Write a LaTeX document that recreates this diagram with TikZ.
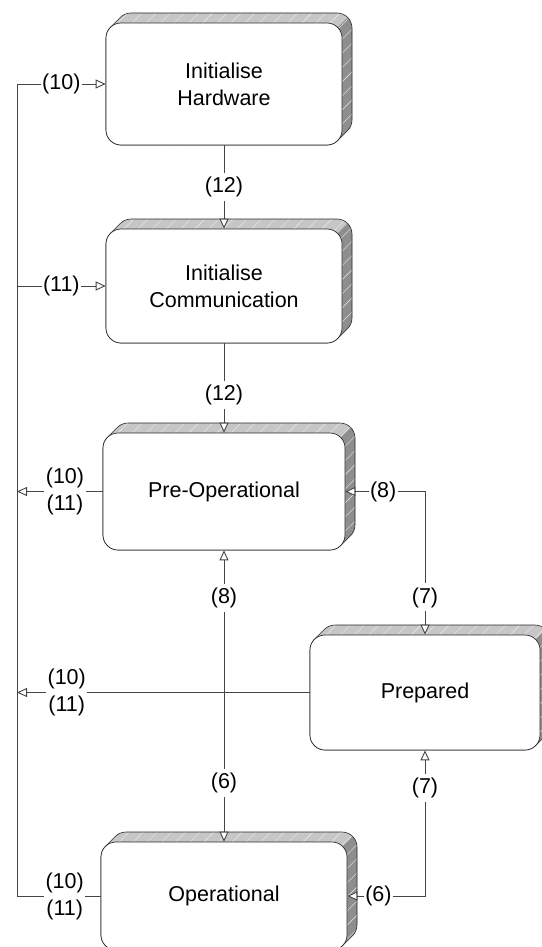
\documentclass[tikz,border=0pt]{standalone}
\usepackage{fontspec}
\setmainfont{Liberation Sans}
\usetikzlibrary{arrows.meta,patterns.meta,calc}
\definecolor{topface}{HTML}{C6C6C6}
\definecolor{sideface}{HTML}{8E8E8E}
\definecolor{edge}{HTML}{2A2A2A}
\definecolor{wire}{HTML}{454545}
\newcommand{\extrude}[4]{%
  \pgfmathsetmacro{\eL}{#1}\pgfmathsetmacro{\eT}{-(#2)}%
  \pgfmathsetmacro{\eR}{#3}\pgfmathsetmacro{\eB}{-(#4)}%
  \path[fill=topface] ({\eL+4.393},{\eT-4.393}) -- ++(10,10) arc[start angle=135,end angle=90,radius=15] -- ({\eR-5},{\eT+10}) arc[start angle=90,end angle=0,radius=15] -- ({\eR+10},{\eB+25}) arc[start angle=0,end angle=-45,radius=15] -- ++(-10,-10) arc[start angle=-45,end angle=-90,radius=15] -- ({\eL+15},{\eB}) arc[start angle=-90,end angle=-180,radius=15] -- ({\eL},{\eT-15}) arc[start angle=180,end angle=135,radius=15] -- cycle;
  \path[fill=sideface] ({\eR-4.393},{\eT-4.393}) -- ++(10,10) arc[start angle=45,end angle=0,radius=15] -- ({\eR+10},{\eB+25}) arc[start angle=0,end angle=-45,radius=15] -- ++(-10,-10) arc[start angle=-45,end angle=0,radius=15] -- ({\eR},{\eT-15}) arc[start angle=0,end angle=45,radius=15] -- cycle;
  \path[pattern={Lines[angle=45,distance=10pt,line width=0.4pt]},pattern color=white!70!topface,draw=edge,line width=0.6pt] ({\eL+4.393},{\eT-4.393}) -- ++(10,10) arc[start angle=135,end angle=90,radius=15] -- ({\eR-5},{\eT+10}) arc[start angle=90,end angle=0,radius=15] -- ({\eR+10},{\eB+25}) arc[start angle=0,end angle=-45,radius=15] -- ++(-10,-10) arc[start angle=-45,end angle=-90,radius=15] -- ({\eL+15},{\eB}) arc[start angle=-90,end angle=-180,radius=15] -- ({\eL},{\eT-15}) arc[start angle=180,end angle=135,radius=15] -- cycle;
}
\tikzset{
  stbox/.style={draw=edge, fill=white, line width=0.7pt, rounded corners=15pt,
    align=center, inner sep=0pt, font=\fontsize{21.5}{27}\selectfont},
  conn/.style={draw=wire, line width=0.9pt, -{Triangle[length=10pt,width=9pt,fill=white]}},
  conn2/.style={draw=wire, line width=0.9pt, {Triangle[length=10pt,width=9pt,fill=white]}-{Triangle[length=10pt,width=9pt,fill=white]}},
  plain/.style={draw=wire, line width=0.9pt},
  lbl/.style={fill=white, inner xsep=1.5pt, inner ysep=4pt, align=center,
    font=\fontsize{21.5}{27}\selectfont}
}
\begin{document}
\begin{tikzpicture}[x=1pt,y=1pt]
\useasboundingbox (0,0) rectangle (541,-947);
% extruded backs
\extrude{106}{23}{342}{145}
\extrude{106}{229}{342}{343}
\extrude{103}{433}{345}{550}
\extrude{310}{635}{540}{750}
\extrude{101}{842}{347}{950}
% state boxes
\node[stbox, minimum width=236pt, minimum height=122pt] (hw) at (224,-84) {Initialise\\Hardware};
\node[stbox, minimum width=236pt, minimum height=114pt] (com) at (224,-286) {Initialise\\Communication};
\node[stbox, minimum width=242pt, minimum height=117pt] (pre) at (224,-491.5) {Pre-Operational};
\node[stbox, minimum width=230pt, minimum height=115pt] (prep) at (425,-692.5) {Prepared};
\node[stbox, minimum width=246pt, minimum height=108pt] (op) at (224,-896) {Operational};
% helper x positions
\coordinate (lx) at (17,0);
\coordinate (rx) at (425,0);
% (12) transitions
\draw[conn] (hw.south) -- node[lbl, pos=0.5] {(12)} (com.north);
\draw[conn] (com.south) -- node[lbl, pos=0.58] {(12)} (pre.north);
% left bus
\draw[plain] (op.west) -- node[lbl, pos=0.43] {(10)\\(11)} (op.west -| lx) -- (hw.west -| lx);
\draw[conn] (hw.west -| lx) -- node[lbl, pos=0.5] {(10)} (hw.west);
\draw[conn] (com.west -| lx) -- node[lbl, pos=0.5] {(11)} (com.west);
\draw[conn] (pre.west) -- node[lbl, pos=0.44] {(10)\\(11)} (pre.west -| lx);
\draw[conn] (prep.west) -- node[lbl, pos=0.83] {(10)\\(11)} (prep.west -| lx);
% pre <-> prepared
\draw[conn2] (pre.east) -- node[lbl, pos=0.475] {(8)} (pre.east -| rx) -- node[lbl, pos=0.74] {(7)} (prep.north);
% pre <-> operational
\draw[conn2] (pre.south) -- node[lbl, pos=0.164] {(8)} node[lbl, pos=0.80] {(6)} (op.north);
% prepared <-> operational
\draw[conn2] (prep.south) -- node[lbl, pos=0.26] {(7)} (prep.south |- op.east) -- node[lbl, pos=0.6] {(6)} (op.east);
\end{tikzpicture}
\end{document}
